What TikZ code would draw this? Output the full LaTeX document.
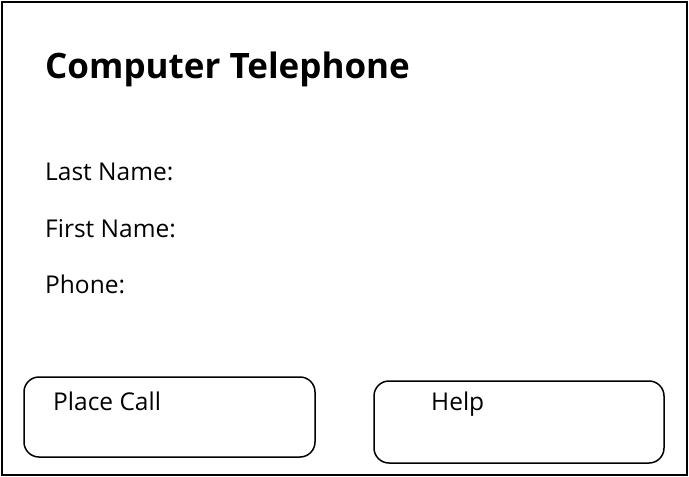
\documentclass[tikz,border=0pt]{standalone}
\usepackage{fontspec}
\setmainfont{Open Sans}
\begin{document}
\begin{tikzpicture}[x=1pt,y=-1pt,
  lbl/.style={anchor=base west,inner sep=0pt,font=\fontsize{24.5}{28}\selectfont},
  ttl/.style={anchor=base west,inner sep=0pt,font=\fontsize{35}{40}\selectfont\bfseries},
  btn/.style={draw,line width=1.5pt,rounded corners=15pt},
  frame/.style={draw,line width=1.5pt}]
\useasboundingbox (0,0) rectangle (689,477);
\draw[frame] (2,2) rectangle (687,475);
\node[ttl] (title) at (45,78) {Computer Telephone};
\node[lbl] (last) at (45,180) {Last Name:};
\node[lbl] (first) at (45,237) {First Name:};
\node[lbl] (phone) at (45,293) {Phone:};
\draw[btn] (24,377) rectangle (315,457);
\draw[btn] (374,381) rectangle (664,463);
\node[lbl] (place) at (53,410) {Place Call};
\node[lbl] (help) at (431,410) {Help};
\end{tikzpicture}
\end{document}
